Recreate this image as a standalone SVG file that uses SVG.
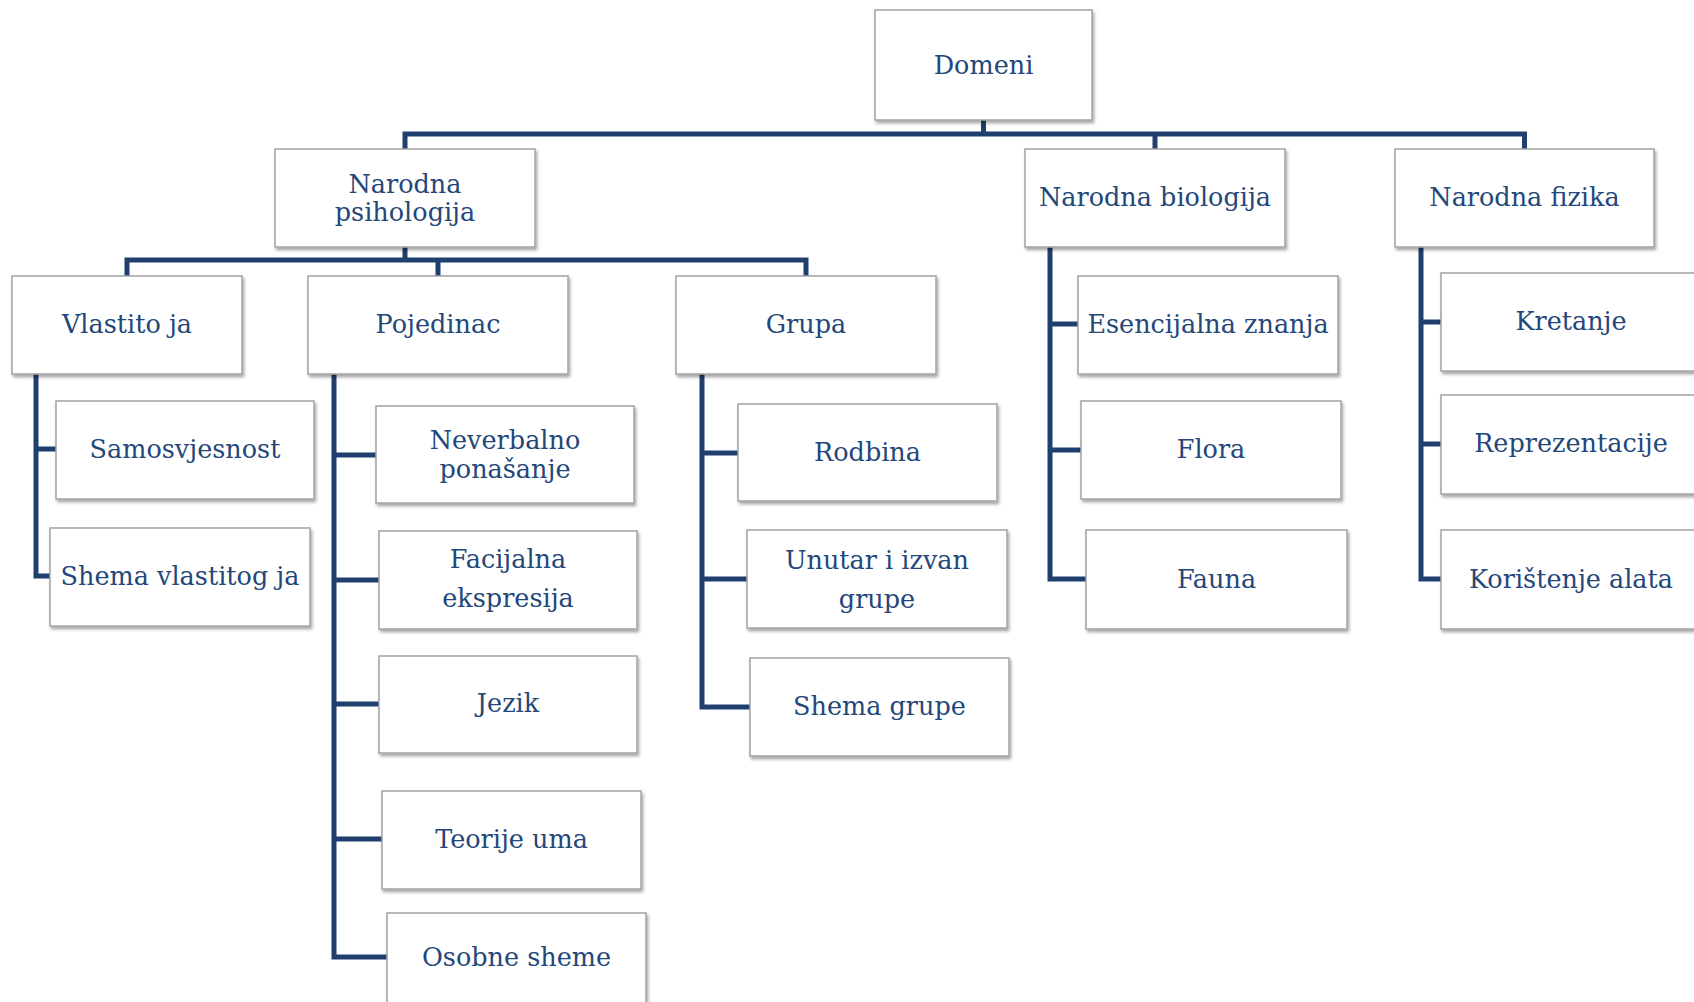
<svg xmlns="http://www.w3.org/2000/svg" width="1694" height="1002" viewBox="0 0 1694 1002">
<style>
.box{fill:#ffffff;stroke:#a3a3a3;stroke-width:1.5;filter:url(#sh)}
.t{font-family:"DejaVu Serif","Liberation Serif",serif;font-size:25.5px;fill:#24477a;text-anchor:middle}
.c{fill:none;stroke:#1f3f6e;stroke-width:5;stroke-linejoin:miter;stroke-linecap:butt}
</style>
<defs>
<filter id="sh" x="-5%" y="-10%" width="115%" height="130%">
<feDropShadow dx="1.5" dy="2.5" stdDeviation="1.5" flood-color="#000" flood-opacity="0.35"/>
</filter>
</defs>
<rect width="1694" height="1002" fill="#ffffff"/>
<g id="connectors">
<path class="c" d="M983.5 120V134M405 149V134H1524.5V149M1155 134V149"/>
<path class="c" d="M405 247V260M127 276V260H806V276M438 260V276"/>
<path class="c" d="M36 374V576H50M36 449H56"/>
<path class="c" d="M334 374V957H387M334 455H376M334 580H379M334 704H379M334 839H382"/>
<path class="c" d="M702 374V707H750M702 453H738M702 579H747"/>
<path class="c" d="M1050 247V579H1086M1050 324H1078M1050 450H1081"/>
<path class="c" d="M1421 247V579H1441M1421 322H1441M1421 444H1441"/>
</g>
<g id="domeni"><rect class="box" x="875" y="10" width="217" height="110"/><text class="t" x="983.5" y="74">Domeni</text></g>
<g id="narodna-psihologija"><rect class="box" x="275" y="149" width="260" height="98"/><text class="t" x="405" y="193">Narodna</text><text class="t" x="405" y="221">psihologija</text></g>
<g id="narodna-biologija"><rect class="box" x="1025" y="149" width="260" height="98"/><text class="t" x="1155" y="206">Narodna biologija</text></g>
<g id="narodna-fizika"><rect class="box" x="1395" y="149" width="259" height="98"/><text class="t" x="1524.5" y="206">Narodna fizika</text></g>
<g id="vlastito-ja"><rect class="box" x="12" y="276" width="230" height="98"/><text class="t" x="127" y="333">Vlastito ja</text></g>
<g id="pojedinac"><rect class="box" x="308" y="276" width="260" height="98"/><text class="t" x="438" y="333">Pojedinac</text></g>
<g id="grupa"><rect class="box" x="676" y="276" width="260" height="98"/><text class="t" x="806" y="333">Grupa</text></g>
<g id="samosvjesnost"><rect class="box" x="56" y="401" width="258" height="98"/><text class="t" x="185" y="458">Samosvjesnost</text></g>
<g id="shema-vlastitog-ja"><rect class="box" x="50" y="528" width="260" height="98"/><text class="t" x="180" y="585">Shema vlastitog ja</text></g>
<g id="neverbalno-ponasanje"><rect class="box" x="376" y="406" width="258" height="97"/><text class="t" x="505" y="449">Neverbalno</text><text class="t" x="505" y="478">ponašanje</text></g>
<g id="facijalna-ekspresija"><rect class="box" x="379" y="531" width="258" height="98"/><text class="t" x="508" y="568">Facijalna</text><text class="t" x="508" y="607">ekspresija</text></g>
<g id="jezik"><rect class="box" x="379" y="656" width="258" height="97"/><text class="t" x="508" y="712">Jezik</text></g>
<g id="teorije-uma"><rect class="box" x="382" y="791" width="259" height="98"/><text class="t" x="511.5" y="848">Teorije uma</text></g>
<g id="osobne-sheme"><rect class="box" x="387" y="913" width="259" height="98"/><text class="t" x="516.5" y="966">Osobne sheme</text></g>
<g id="rodbina"><rect class="box" x="738" y="404" width="259" height="97"/><text class="t" x="867.5" y="461">Rodbina</text></g>
<g id="unutar-i-izvan-grupe"><rect class="box" x="747" y="530" width="260" height="98"/><text class="t" x="877" y="569">Unutar i izvan</text><text class="t" x="877" y="608">grupe</text></g>
<g id="shema-grupe"><rect class="box" x="750" y="658" width="259" height="98"/><text class="t" x="879.5" y="715">Shema grupe</text></g>
<g id="esencijalna-znanja"><rect class="box" x="1078" y="276" width="260" height="98"/><text class="t" x="1208" y="333">Esencijalna znanja</text></g>
<g id="flora"><rect class="box" x="1081" y="401" width="260" height="98"/><text class="t" x="1211" y="458">Flora</text></g>
<g id="fauna"><rect class="box" x="1086" y="530" width="261" height="99"/><text class="t" x="1216.5" y="588">Fauna</text></g>
<g id="kretanje"><rect class="box" x="1441" y="273" width="260" height="98"/><text class="t" x="1571" y="330">Kretanje</text></g>
<g id="reprezentacije"><rect class="box" x="1441" y="395" width="260" height="99"/><text class="t" x="1571" y="452">Reprezentacije</text></g>
<g id="koristenje-alata"><rect class="box" x="1441" y="530" width="260" height="99"/><text class="t" x="1571" y="588">Korištenje alata</text></g>
</svg>
